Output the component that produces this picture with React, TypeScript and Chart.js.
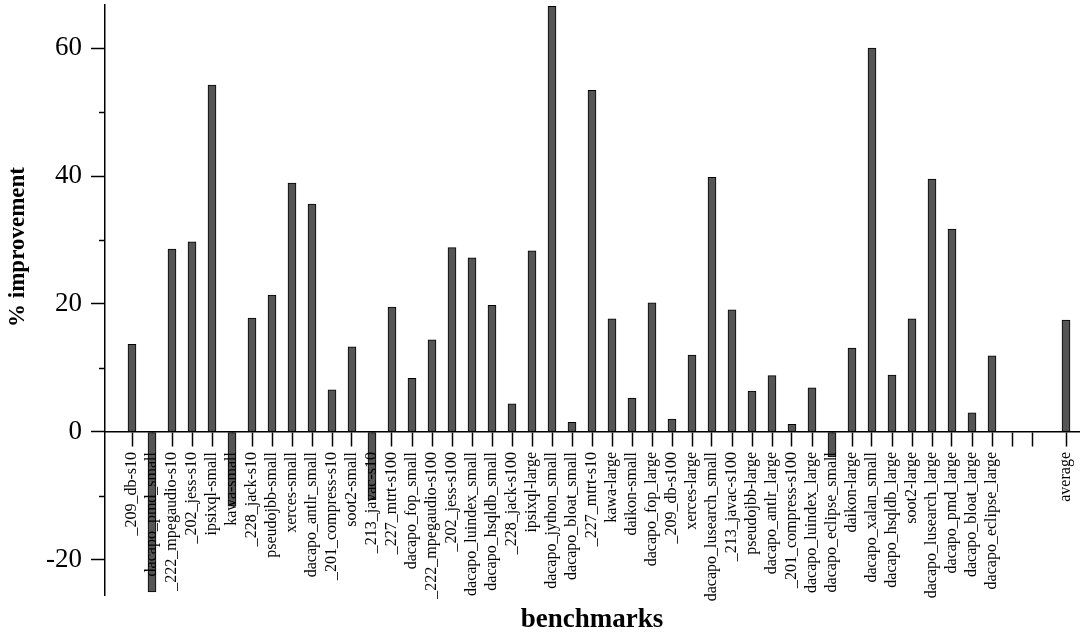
import { useEffect, useRef } from "react";
import { Chart, registerables } from "chart.js";

Chart.register(...registerables);

// Benchmark names along the x axis (two trailing slots are left blank before the average)
const benchmarks: string[] = [
  "_209_db-s10",
  "dacapo_pmd_small",
  "_222_mpegaudio-s10",
  "_202_jess-s10",
  "ipsixql-small",
  "kawa-small",
  "_228_jack-s10",
  "pseudojbb-small",
  "xerces-small",
  "dacapo_antlr_small",
  "_201_compress-s10",
  "soot2-small",
  "_213_javac-s10",
  "_227_mtrt-s100",
  "dacapo_fop_small",
  "_222_mpegaudio-s100",
  "_202_jess-s100",
  "dacapo_luindex_small",
  "dacapo_hsqldb_small",
  "_228_jack-s100",
  "ipsixql-large",
  "dacapo_jython_small",
  "dacapo_bloat_small",
  "_227_mtrt-s10",
  "kawa-large",
  "daikon-small",
  "dacapo_fop_large",
  "_209_db-s100",
  "xerces-large",
  "dacapo_lusearch_small",
  "_213_javac-s100",
  "pseudojbb-large",
  "dacapo_antlr_large",
  "_201_compress-s100",
  "dacapo_luindex_large",
  "dacapo_eclipse_small",
  "daikon-large",
  "dacapo_xalan_small",
  "dacapo_hsqldb_large",
  "soot2-large",
  "dacapo_lusearch_large",
  "dacapo_pmd_large",
  "dacapo_bloat_large",
  "dacapo_eclipse_large",
  "",
  "",
];

// % improvement per benchmark
const improvement: number[] = [
  13.7, -25.0, 28.6, 29.7, 54.2, -11.6, 17.8, 21.4, 38.9, 35.6,
  6.6, 13.3, -10.6, 19.5, 8.4, 14.4, 28.8, 27.2, 19.8, 4.4,
  28.3, 66.5, 1.5, 53.4, 17.7, 5.3, 20.2, 2.0, 12.0, 39.8,
  19.1, 6.4, 8.8, 1.2, 6.9, -3.9, 13.1, 60.0, 8.9, 17.7,
  39.5, 31.7, 3.0, 11.9, 0, 0,
];

const averageLabel = "average";
const averageValue = 17.5;
// extra spacing (in category units) between the last benchmark slot and the average bar
const averageGap = 1.7;

const yMajorTicks: number[] = [-20, 0, 20, 40, 60];
const yMinorTicks: number[] = [-10, 10, 30, 50];

const xTitle = "benchmarks";
const yTitle = "% improvement";

const FONT = "'Liberation Serif', 'Times New Roman', serif";

const xPositions: number[] = [
  ...benchmarks.map((_, i) => i + 1),
  benchmarks.length + averageGap,
];
const xLabels: string[] = [...benchmarks, averageLabel];
const yValues: number[] = [...improvement, averageValue];

const decorations = {
  id: "decorations",
  afterDraw(chart: any) {
    const { ctx, chartArea, scales } = chart;
    const y = scales.y;
    ctx.save();
    // minor ticks on the y axis
    ctx.strokeStyle = "#000";
    ctx.lineWidth = 1.5;
    yMinorTicks.forEach((v) => {
      const py = Math.round(y.getPixelForValue(v)) + 0.5;
      ctx.beginPath();
      ctx.moveTo(chartArea.left - 6, py);
      ctx.lineTo(chartArea.left, py);
      ctx.stroke();
    });
    // axis titles
    ctx.fillStyle = "#000";
    ctx.textAlign = "center";
    ctx.textBaseline = "middle";
    ctx.font = `bold 27px ${FONT}`;
    ctx.fillText(xTitle, (chartArea.left + chartArea.right) / 2, 620);
    ctx.translate(18, 247);
    ctx.rotate(-Math.PI / 2);
    ctx.font = `bold 23px ${FONT}`;
    ctx.fillText(yTitle, 0, 0);
    ctx.restore();
  },
};

export default function App() {
  const canvasRef = useRef<HTMLCanvasElement | null>(null);

  useEffect(() => {
    const canvas = canvasRef.current;
    if (!canvas) return;
    const chart = new Chart(canvas, {
      type: "bar",
      data: {
        datasets: [
          {
            data: xPositions.map((x, i) => ({ x, y: yValues[i] })),
            backgroundColor: "#555555",
            borderColor: "#000000",
            borderWidth: 1,
            borderSkipped: false,
            barThickness: 8,
          },
        ],
      },
      options: {
        animation: false,
        responsive: false,
        maintainAspectRatio: false,
        layout: { padding: { top: 5, right: 2, bottom: 40, left: 0 } },
        plugins: {
          legend: { display: false },
          tooltip: { enabled: false },
        },
        scales: {
          x: {
            type: "linear",
            position: { y: 0 } as any,
            offset: false,
            min: -0.35,
            max: 48.35,
            grid: {
              offset: false,
              drawOnChartArea: false,
              drawTicks: true,
              tickLength: 14,
              tickWidth: 1.5,
              tickColor: "#000",
            },
            border: { display: true, color: "#000", width: 1.5 },
            afterBuildTicks: (axis: any) => {
              axis.ticks = xPositions.map((v) => ({ value: v }));
            },
            afterFit: (scale: any) => {
              scale.paddingLeft = 0;
              scale.paddingRight = 0;
            },
            ticks: {
              z: 1,
              autoSkip: false,
              maxRotation: 90,
              minRotation: 90,
              padding: 6,
              color: "#000",
              font: { family: FONT, size: 16 },
              callback: (_v: any, i: number) => xLabels[i],
            },
          },
          y: {
            type: "linear",
            position: "left",
            min: -25.47,
            max: 66.72,
            afterBuildTicks: (axis: any) => {
              axis.ticks = yMajorTicks.map((v) => ({ value: v }));
            },
            afterFit: (scale: any) => {
              scale.width = 105;
              scale.paddingTop = 0;
              scale.paddingBottom = 0;
            },
            grid: {
              drawOnChartArea: false,
              drawTicks: true,
              tickLength: 14,
              tickWidth: 1.5,
              tickColor: "#000",
            },
            border: { display: true, color: "#000", width: 1.5 },
            ticks: {
              padding: 9,
              color: "#000",
              font: { family: FONT, size: 27 },
            },
          },
        },
      },
      plugins: [decorations],
    });
    return () => chart.destroy();
  }, []);

  return (
    <div
      style={{
        position: "absolute",
        left: 0,
        top: 0,
        width: 1081,
        height: 635,
        background: "#fff",
      }}
    >
      <canvas ref={canvasRef} width={1081} height={635} />
    </div>
  );
}
